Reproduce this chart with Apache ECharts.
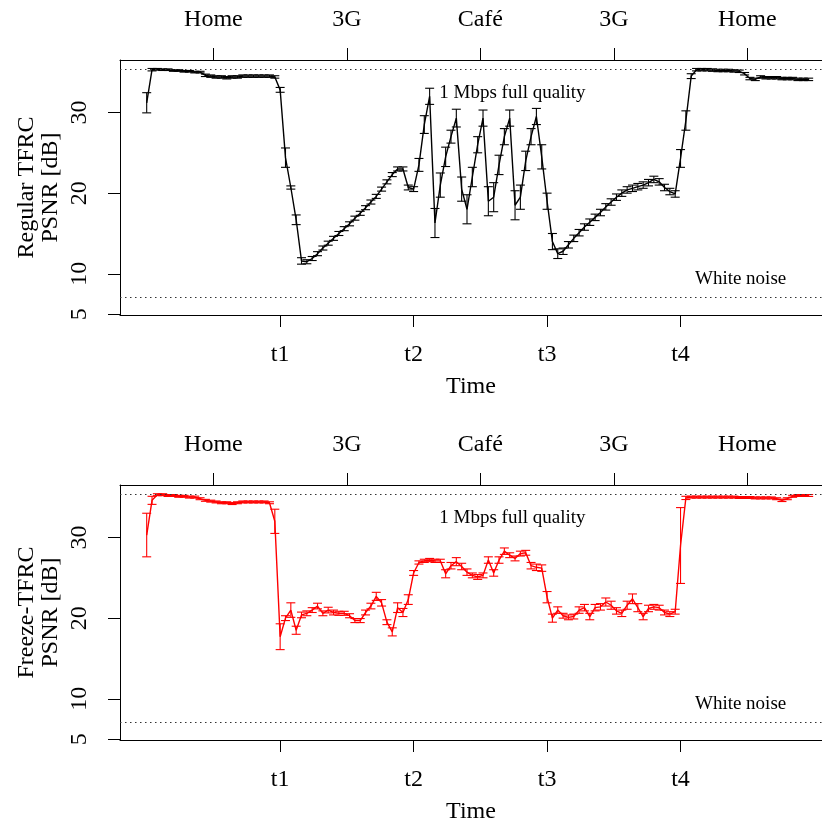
<!DOCTYPE html>
<html>
<head>
<meta charset="utf-8">
<script src="https://cdn.jsdelivr.net/npm/echarts@6/dist/echarts.min.js"></script>
<style>
html,body{margin:0;padding:0;background:#fff;}
#chart{width:822px;height:826px;}
</style>
</head>
<body>
<div id="chart"></div>
<script>
// ---- data ----
const sampleStep = 0.04; // time between samples (t1 = 1, t2 = 2, ...)

const regularMean = [
  31.2,35.3,35.35,35.3,35.3,35.2,35.2,35.1,35.1,35.0,
  35.0,34.6,34.5,34.4,34.4,34.3,34.4,34.4,34.5,34.5,
  34.5,34.5,34.5,34.5,34.4,32.8,24.4,20.7,16.7,11.6,
  11.5,11.9,12.5,13.2,13.8,14.4,15.0,15.6,16.2,16.9,
  17.5,18.2,18.9,19.6,20.5,21.4,22.3,23.0,23.0,20.7,
  20.5,23.5,28.5,32.0,16.3,21.0,24.5,27.0,29.3,20.5,
  18.0,22.0,26.0,29.3,19.0,19.5,23.5,27.0,29.3,18.5,
  19.5,24.0,27.0,29.5,24.5,19.0,14.0,12.5,12.8,13.6,
  14.4,15.1,15.8,16.4,17.0,17.6,18.3,18.9,19.5,20.0,
  20.4,20.6,20.8,21.0,21.3,21.7,21.4,20.7,20.2,19.9,
  24.3,29.0,34.5,35.3,35.3,35.3,35.25,35.2,35.2,35.2,
  35.15,35.1,34.8,34.2,34.1,34.4,34.3,34.3,34.3,34.2,
  34.2,34.2,34.1,34.1,34.1
];
const regularErr = [
  1.25,0.15,0.1,0.1,0.1,0.1,0.1,0.1,0.1,0.1,
  0.1,0.15,0.15,0.15,0.15,0.15,0.15,0.15,0.15,0.15,
  0.15,0.15,0.15,0.15,0.15,0.3,1.2,0.2,0.6,0.4,
  0.25,0.25,0.25,0.25,0.25,0.25,0.25,0.25,0.25,0.25,
  0.25,0.25,0.25,0.25,0.25,0.25,0.25,0.25,0.25,0.3,
  0.3,0.8,1.1,1.0,1.8,1.5,1.2,0.8,1.1,1.5,
  1.8,1.2,1.0,1.0,1.8,1.8,1.2,1.0,1.0,1.8,
  1.5,1.2,1.0,1.0,1.5,1.0,1.0,0.6,0.4,0.4,
  0.4,0.4,0.4,0.4,0.4,0.4,0.4,0.4,0.4,0.4,
  0.4,0.4,0.4,0.4,0.4,0.4,0.4,0.4,0.4,0.4,
  1.1,1.2,0.3,0.15,0.15,0.15,0.15,0.15,0.15,0.15,
  0.15,0.15,0.15,0.15,0.15,0.15,0.15,0.15,0.15,0.15,
  0.15,0.15,0.15,0.15,0.15
];

const freezeMean = [
  30.3,34.6,35.3,35.3,35.2,35.2,35.1,35.1,35.0,35.0,
  34.8,34.6,34.5,34.4,34.3,34.3,34.2,34.3,34.4,34.4,
  34.4,34.4,34.4,34.3,32.0,17.7,20.0,21.0,18.5,20.4,
  20.6,21.0,21.5,20.6,21.0,20.7,20.6,20.6,20.3,19.7,
  19.7,20.7,21.5,22.7,21.9,19.5,18.3,21.3,20.7,22.3,
  25.6,26.9,27.1,27.2,27.1,27.1,25.5,26.5,27.0,26.4,
  25.7,25.3,25.1,25.3,27.2,25.6,27.2,28.3,27.8,27.4,
  28.0,28.1,26.5,26.3,26.2,22.6,20.0,21.0,20.3,20.1,
  20.2,21.0,21.3,20.2,21.3,21.4,22.0,21.6,20.9,20.6,
  21.6,22.4,21.3,20.2,21.2,21.4,21.3,20.7,20.5,20.8,
  29.0,34.9,35.0,35.0,35.0,35.0,35.0,35.0,35.0,35.0,
  35.0,34.95,34.95,34.95,34.9,34.9,34.9,34.9,34.8,34.6,
  34.8,35.1,35.2,35.2,35.2
];
const freezeErr = [
  2.7,0.5,0.12,0.12,0.12,0.12,0.12,0.12,0.12,0.12,
  0.12,0.12,0.12,0.12,0.12,0.12,0.12,0.12,0.12,0.12,
  0.12,0.12,0.12,0.12,1.5,1.6,0.3,0.9,0.5,0.35,
  0.3,0.3,0.35,0.3,0.35,0.3,0.25,0.25,0.25,0.25,
  0.25,0.3,0.35,0.5,0.4,0.3,0.5,0.6,0.5,0.6,
  0.3,0.2,0.2,0.2,0.2,0.2,0.5,0.4,0.5,0.4,
  0.4,0.3,0.3,0.3,0.4,0.4,0.4,0.4,0.3,0.3,
  0.3,0.3,0.4,0.4,0.4,0.7,0.5,0.4,0.3,0.3,
  0.3,0.4,0.4,0.4,0.4,0.4,0.5,0.5,0.4,0.4,
  0.5,0.6,0.5,0.4,0.4,0.3,0.3,0.3,0.3,0.3,
  4.7,0.2,0.12,0.12,0.12,0.12,0.12,0.12,0.12,0.12,
  0.12,0.12,0.12,0.12,0.12,0.12,0.12,0.12,0.12,0.15,
  0.12,0.12,0.12,0.12,0.12
];

const timeTicks = [1, 2, 3, 4];
const timeTickLabels = ['t1', 't2', 't3', 't4'];
const placeTicks = [0.5, 1.5, 2.5, 3.5, 4.5];
const placeTickLabels = ['Home', '3G', 'Café', '3G', 'Home'];
const psnrTicks = [5, 10, 20, 30];
const fullQualityLevel = 35.3;
const whiteNoiseLevel = 7.1;
const fullQualityLabel = ['1 Mbps full quality', 2.74, 32.4];
const whiteNoiseLabel = ['White noise', 4.45, 9.3];

// ---- chart ----
const FONT = 'Liberation Serif';
const panels = [
  {name: 'Regular TFRC\nPSNR [dB]', mean: regularMean, err: regularErr, color: '#000000', top: 60},
  {name: 'Freeze-TFRC\nPSNR [dB]', mean: freezeMean, err: freezeErr, color: '#ff0000', top: 485}
];

const grids = [], xAxes = [], yAxes = [], series = [];
const axisLineStyle = {color: '#000', width: 1};
panels.forEach((p, k) => {
  grids.push({left: 120, top: p.top, right: 0, height: 255, show: false,
    containLabel: false, outerBoundsMode: 'none'});
  // bottom time axis
  xAxes.push({gridIndex: k, type: 'value', position: 'bottom', min: -0.2, max: 5.06,
    axisLine: {show: true, onZero: false, lineStyle: axisLineStyle}, splitLine: {show: false},
    axisTick: {show: true, length: 12, customValues: timeTicks, lineStyle: {color: '#000'}},
    axisLabel: {show: true, customValues: timeTicks, margin: 28,
      formatter: v => timeTickLabels[timeTicks.indexOf(v)],
      fontFamily: FONT, fontSize: 24, color: '#000'},
    name: 'Time', nameLocation: 'middle', nameGap: 60, nameMoveOverlap: false,
    nameTextStyle: {fontFamily: FONT, fontSize: 24, color: '#000'}});
  // top place axis
  xAxes.push({gridIndex: k, type: 'value', position: 'top', min: -0.2, max: 5.06,
    axisLine: {show: true, onZero: false, lineStyle: axisLineStyle}, splitLine: {show: false},
    axisTick: {show: true, length: 12, customValues: placeTicks, lineStyle: {color: '#000'}},
    axisLabel: {show: true, customValues: placeTicks, margin: 28,
      formatter: v => placeTickLabels[placeTicks.indexOf(v)],
      fontFamily: FONT, fontSize: 24, color: '#000'}});
  yAxes.push({gridIndex: k, type: 'value', min: 4.9, max: 36.5,
    axisLine: {show: true, onZero: false, lineStyle: axisLineStyle}, splitLine: {show: false},
    axisTick: {show: true, length: 12, customValues: psnrTicks, lineStyle: {color: '#000'}},
    axisLabel: {show: true, customValues: psnrTicks, rotate: 90, margin: 28,
      fontFamily: FONT, fontSize: 24, color: '#000'},
    name: p.name, nameLocation: 'middle', nameRotate: 90, nameGap: 57, nameMoveOverlap: false,
    nameTextStyle: {fontFamily: FONT, fontSize: 24, color: '#000', lineHeight: 24}});

  const pts = p.mean.map((m, i) => [i * sampleStep, m, p.err[i]]);
  // error bars
  series.push({type: 'custom', xAxisIndex: 2 * k, yAxisIndex: k, data: pts, z: 2,
    renderItem: (params, api) => {
      const t = api.value(0), m = api.value(1), e = api.value(2);
      const hi = api.coord([t, m + e]), lo = api.coord([t, m - e]);
      const w = 4.5;
      const st = {stroke: p.color, lineWidth: 1.1};
      return {type: 'group', children: [
        {type: 'line', shape: {x1: hi[0], y1: hi[1], x2: lo[0], y2: lo[1]}, style: st},
        {type: 'line', shape: {x1: hi[0] - w, y1: hi[1], x2: hi[0] + w, y2: hi[1]}, style: st},
        {type: 'line', shape: {x1: lo[0] - w, y1: lo[1], x2: lo[0] + w, y2: lo[1]}, style: st}
      ]};
    }});
  // mean line + reference levels
  series.push({type: 'line', xAxisIndex: 2 * k, yAxisIndex: k, data: pts.map(d => [d[0], d[1]]),
    showSymbol: false, symbol: 'none', z: 3, animation: false,
    lineStyle: {color: p.color, width: 1.4},
    markLine: {silent: true, symbol: 'none', label: {show: false}, animation: false,
      lineStyle: {color: '#333', type: [1.5, 3.5], width: 1.2},
      data: [{yAxis: fullQualityLevel}, {yAxis: whiteNoiseLevel}]}});
  // annotations
  series.push({type: 'custom', xAxisIndex: 2 * k, yAxisIndex: k, z: 4,
    data: [fullQualityLabel, whiteNoiseLabel],
    renderItem: (params, api) => {
      const c = api.coord([api.value(1), api.value(2)]);
      return {type: 'text', x: c[0], y: c[1], style: {
        text: [fullQualityLabel, whiteNoiseLabel][params.dataIndex][0],
        fontFamily: FONT, fontSize: 19, fill: '#000', align: 'center', verticalAlign: 'middle'}};
    }});
});

const chart = echarts.init(document.getElementById('chart'), null, {renderer: 'canvas'});
chart.setOption({animation: false, backgroundColor: '#fff',
  grid: grids, xAxis: xAxes, yAxis: yAxes, series: series});
</script>
</body>
</html>
